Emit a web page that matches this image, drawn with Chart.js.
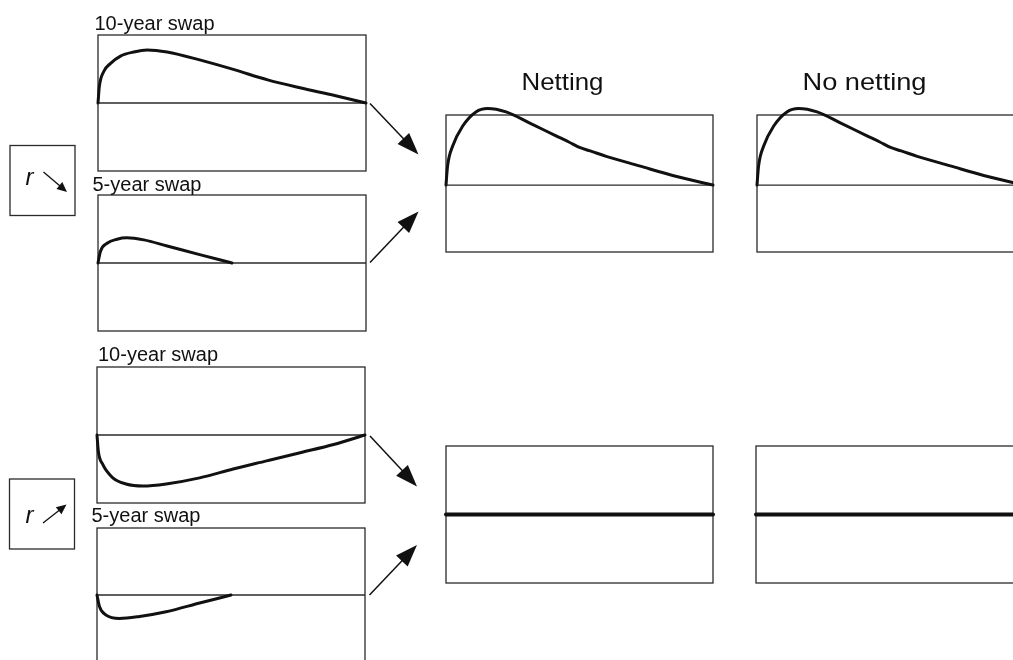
<!DOCTYPE html>
<html>
<head>
<meta charset="utf-8">
<script src="https://cdn.jsdelivr.net/npm/chart.js@4/dist/chart.umd.min.js"></script>
<style>
  html, body { margin:0; padding:0; background:#fff; width:1013px; height:660px; overflow:hidden; }
  #stage { position:relative; width:1013px; height:660px; overflow:hidden; }
  canvas.panel { position:absolute; }
  svg#overlay { position:absolute; left:0; top:0; pointer-events:none; }
</style>
</head>
<body>
<div id="stage"></div>
<script>
// ---------------- DATA (years to maturity vs. exposure, arbitrary units) ----------------
const swap10Down_t = [0, 0.05, 0.21, 0.46, 0.84, 1.33, 1.83, 2.58, 3.83, 5.08, 6.33, 7.58, 8.83, 10];
const swap10Down_v = [0, 0.24, 0.46, 0.58, 0.69, 0.75, 0.78, 0.75, 0.63, 0.49, 0.34, 0.22, 0.11, 0];

const swap5Down_t = [0, 0.09, 0.34, 0.71, 1.08, 1.71, 2.58, 3.83, 5];
const swap5Down_v = [0, 0.17, 0.29, 0.35, 0.37, 0.34, 0.25, 0.12, 0];

const swap10Up_t = [0, 0.05, 0.21, 0.59, 1.08, 1.71, 2.58, 3.83, 5.08, 6.33, 7.58, 8.83, 10];
const swap10Up_v = [0, -0.24, -0.43, -0.63, -0.72, -0.75, -0.72, -0.63, -0.50, -0.38, -0.26, -0.14, 0];

const swap5Up_t = [0, 0.09, 0.34, 0.84, 1.59, 2.58, 3.83, 5];
const swap5Up_v = [0, -0.17, -0.30, -0.35, -0.32, -0.25, -0.12, 0];

const nettingDown_t = [0, 0.06, 0.25, 0.62, 1.12, 1.56, 2.25, 3.12, 4.12, 4.6, 5, 5.4, 6, 7.24, 8.49, 10];
const nettingDown_v = [0, 0.28, 0.57, 0.86, 1.07, 1.12, 1.07, 0.91, 0.72, 0.63, 0.55, 0.50, 0.42, 0.28, 0.14, 0];

const noNettingDown_t = [0, 0.06, 0.25, 0.62, 1.12, 1.56, 2.25, 3.12, 4.12, 4.6, 5, 5.4, 6, 7.24, 8.49, 10];
const noNettingDown_v = [0, 0.28, 0.57, 0.86, 1.07, 1.12, 1.07, 0.91, 0.72, 0.63, 0.55, 0.50, 0.42, 0.28, 0.14, 0];

const nettingUp_t = [0, 10];
const nettingUp_v = [0, 0];
const noNettingUp_t = [0, 10];
const noNettingUp_v = [0, 0];

const panelLabels = ["10-year swap", "5-year swap", "10-year swap", "5-year swap"];
const columnTitles = ["Netting", "No netting"];
const rateLabel = "r";

// ---------------- LAYOUT ----------------
const PAD = 10;
const stage = document.getElementById('stage');

const framePlugin = {
  id: 'frame',
  beforeDatasetsDraw(chart) {
    const {ctx, chartArea: a, scales: {y}} = chart;
    ctx.save();
    ctx.strokeStyle = '#2a2a2a';
    ctx.lineWidth = 1.3;
    ctx.strokeRect(a.left, a.top, a.right - a.left, a.bottom - a.top);
    const y0 = y.getPixelForValue(0);
    ctx.beginPath();
    ctx.moveTo(a.left, y0);
    ctx.lineTo(a.right, y0);
    ctx.stroke();
    ctx.restore();
  }
};

function makePanel(box, tArr, vArr, yMin, yMax, lw) {
  const c = document.createElement('canvas');
  c.className = 'panel';
  const w = Math.round(box.r - box.l + 2 * PAD);
  const h = Math.round(box.b - box.t + 2 * PAD);
  c.width = w; c.height = h;
  c.style.left = (box.l - PAD) + 'px';
  c.style.top = (box.t - PAD) + 'px';
  c.style.width = w + 'px';
  c.style.height = h + 'px';
  stage.appendChild(c);
  new Chart(c, {
    type: 'line',
    data: {
      datasets: [{
        data: tArr.map((t, i) => ({x: t, y: vArr[i]})),
        borderColor: '#111',
        borderWidth: lw || 3,
        pointRadius: 0,
        fill: false,
        cubicInterpolationMode: 'monotone',
        borderCapStyle: 'round',
        borderJoinStyle: 'round',
        clip: false
      }]
    },
    options: {
      responsive: false,
      animation: false,
      devicePixelRatio: 1,
      layout: { padding: PAD },
      plugins: { legend: {display: false}, tooltip: {enabled: false}, title: {display: false} },
      scales: {
        x: { type: 'linear', min: 0, max: 10, display: false },
        y: { type: 'linear', min: yMin, max: yMax, display: false }
      }
    },
    plugins: [framePlugin]
  });
}

// left column
makePanel({l: 97.5, r: 365.5, t: 34.5, b: 170.5}, swap10Down_t, swap10Down_v, -1, 1);
makePanel({l: 97.5, r: 365.5, t: 195, b: 331}, swap5Down_t, swap5Down_v, -1, 1);
makePanel({l: 97, r: 364.5, t: 367, b: 503}, swap10Up_t, swap10Up_v, -1, 1);
makePanel({l: 97, r: 364.5, t: 528, b: 662}, swap5Up_t, swap5Up_v, -1, 1);
// right columns
makePanel({l: 446, r: 713, t: 114.5, b: 251.5}, nettingDown_t, nettingDown_v, -0.98, 1.025);
makePanel({l: 757, r: 1024, t: 114.5, b: 251.5}, noNettingDown_t, noNettingDown_v, -0.98, 1.025);
makePanel({l: 445.5, r: 712.5, t: 446, b: 582.5}, nettingUp_t, nettingUp_v, -1, 1, 4);
makePanel({l: 756, r: 1023, t: 446, b: 582.5}, noNettingUp_t, noNettingUp_v, -1, 1, 4);

// ---------------- OVERLAY: labels, arrows, rate boxes ----------------
const NS = 'http://www.w3.org/2000/svg';
const svg = document.createElementNS(NS, 'svg');
svg.setAttribute('id', 'overlay');
svg.setAttribute('width', 1013);
svg.setAttribute('height', 660);
stage.appendChild(svg);

function el(name, attrs, text) {
  const e = document.createElementNS(NS, name);
  for (const k in attrs) e.setAttribute(k, attrs[k]);
  if (text !== undefined) e.textContent = text;
  svg.appendChild(e);
  return e;
}
const FONT = '"Liberation Sans", Arial, Helvetica, sans-serif';

function label(x, y, s, size, len) {
  const a = {x: x, y: y, 'font-family': FONT, 'font-size': size, fill: '#111'};
  if (len) { a.textLength = len; a.lengthAdjust = 'spacingAndGlyphs'; }
  el('text', a, s);
}
label(94.5, 30, panelLabels[0], 20);
label(92.5, 190.5, panelLabels[1], 20);
label(98, 360.5, panelLabels[2], 20);
label(91.5, 521.5, panelLabels[3], 20);
label(521.5, 89.5, columnTitles[0], 24, 82);
label(802.5, 89.5, columnTitles[1], 24, 124);

function arrow(x1, y1, x2, y2, hl, hw, sw) {
  const dx = x2 - x1, dy = y2 - y1, L = Math.hypot(dx, dy);
  const ux = dx / L, uy = dy / L;
  const bx = x2 - ux * hl, by = y2 - uy * hl;
  el('line', {x1: x1, y1: y1, x2: bx + ux * 2, y2: by + uy * 2, stroke: '#111', 'stroke-width': sw});
  const pts = [
    [x2, y2],
    [bx - uy * hw, by + ux * hw],
    [bx + uy * hw, by - ux * hw]
  ].map(p => p.join(',')).join(' ');
  el('polygon', {points: pts, fill: '#111'});
}
// big arrows
arrow(370, 103.5, 418.5, 154.5, 22, 8, 1.5);
arrow(370, 262.5, 418.5, 211.5, 22, 8, 1.5);
arrow(370, 436, 417, 486.5, 22, 8, 1.5);
arrow(369.5, 595, 417, 545, 22, 8, 1.5);

// rate boxes
el('rect', {x: 10, y: 145.5, width: 65, height: 70, fill: 'none', stroke: '#2a2a2a', 'stroke-width': 1.3});
el('rect', {x: 9.5, y: 479, width: 65, height: 70, fill: 'none', stroke: '#2a2a2a', 'stroke-width': 1.3});
el('text', {x: 25.5, y: 185, 'font-family': FONT, 'font-size': 24, 'font-style': 'italic', fill: '#111'}, rateLabel);
el('text', {x: 25.5, y: 522.5, 'font-family': FONT, 'font-size': 24, 'font-style': 'italic', fill: '#111'}, rateLabel);
arrow(43.5, 172, 67, 192, 10, 4.5, 1.3);
arrow(43, 523, 66.5, 504.5, 10, 4.5, 1.3);
</script>
</body>
</html>
